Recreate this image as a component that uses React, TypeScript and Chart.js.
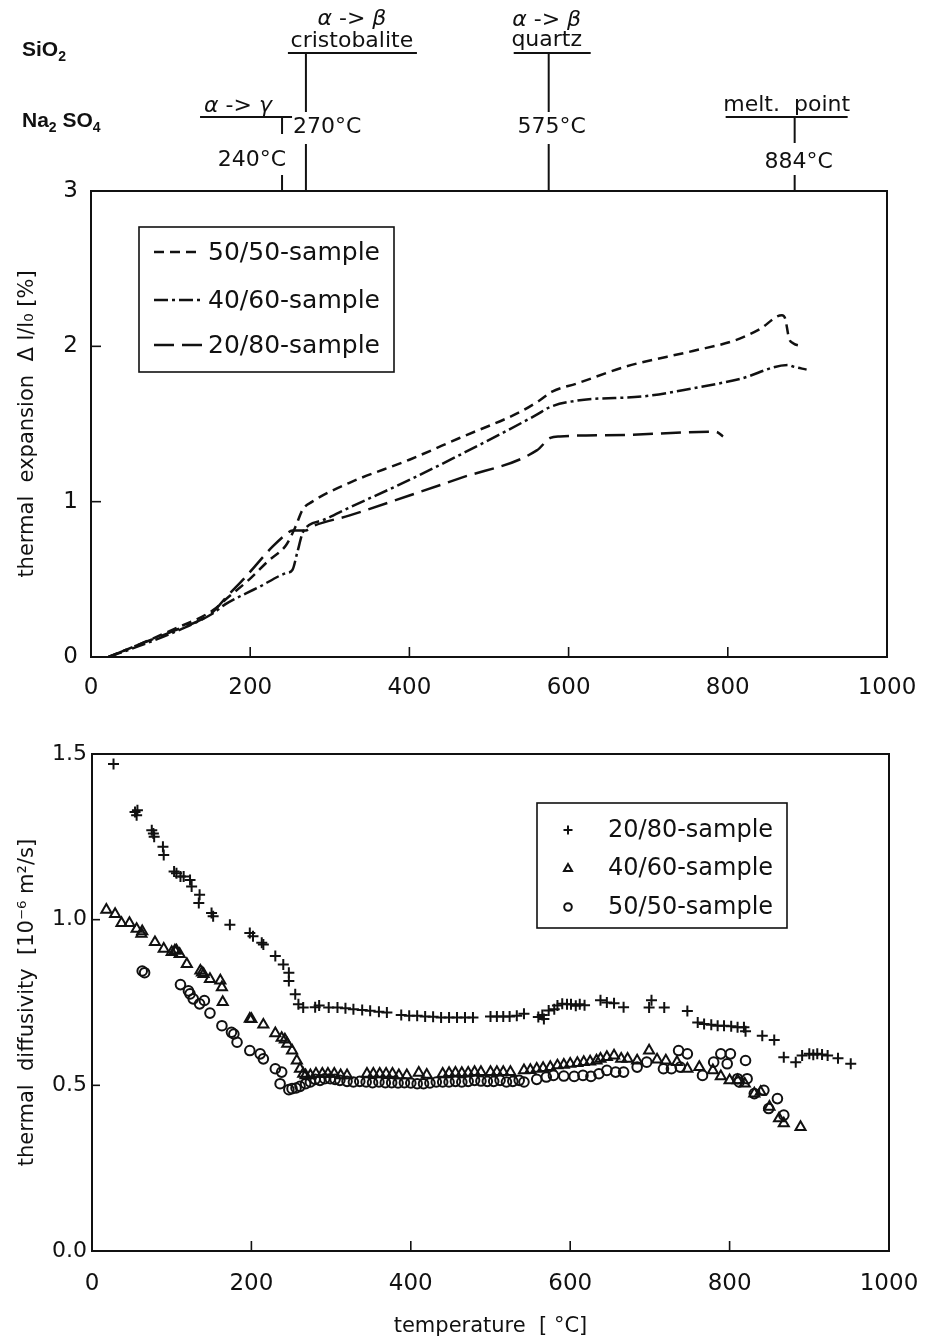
import React, { useEffect, useRef } from "react";
import { Chart, registerables } from "chart.js";
Chart.register(...registerables);

const INK = "#111111";
const FONT = '"DejaVu Sans", sans-serif';
const BOLD = '"Liberation Sans", "DejaVu Sans", sans-serif';

// ---------- Top chart: thermal expansion (temperature °C -> Δl/l0 %) ----------
const exp5050T = [22, 60, 100, 153, 169, 199, 223, 245, 257, 266, 278, 324, 400, 463, 540, 563, 580, 610, 672, 756, 810, 840, 868, 872, 877, 882, 895];
const exp5050V = [0, 0.08, 0.17, 0.30, 0.37, 0.50, 0.62, 0.72, 0.84, 0.95, 1.0, 1.12, 1.27, 1.41, 1.58, 1.65, 1.71, 1.76, 1.87, 1.97, 2.04, 2.11, 2.20, 2.18, 2.05, 2.02, 2.0];
const exp4060T = [22, 60, 100, 153, 169, 211, 245, 253, 259, 266, 274, 291, 324, 400, 463, 560, 577, 610, 698, 756, 815, 876, 882, 899];
const exp4060V = [0, 0.07, 0.15, 0.28, 0.34, 0.45, 0.54, 0.56, 0.67, 0.80, 0.85, 0.88, 0.96, 1.14, 1.30, 1.56, 1.61, 1.65, 1.68, 1.73, 1.79, 1.88, 1.87, 1.85];
const exp2080T = [22, 60, 100, 153, 169, 195, 228, 245, 253, 270, 278, 324, 400, 463, 560, 577, 589, 672, 777, 785, 794];
const exp2080V = [0, 0.08, 0.16, 0.29, 0.38, 0.52, 0.71, 0.79, 0.815, 0.815, 0.84, 0.91, 1.04, 1.15, 1.33, 1.41, 1.42, 1.43, 1.45, 1.45, 1.42];
const expLabels = ["50/50-sample", "40/60-sample", "20/80-sample"];
const expYTicks = [0, 1, 2, 3];
const xTicks = [0, 200, 400, 600, 800, 1000];

// transition annotations
const transTemps = [240, 270, 575, 884];
const transTempLabels = ["240°C", "270°C", "575°C", "884°C"];

// ---------- Bottom chart: thermal diffusivity ----------
const dif2080T = [27, 54, 56, 57, 75, 77, 78, 89, 90, 103, 106, 111, 115, 123, 125, 135, 134, 150, 152, 173, 198, 202, 213, 215, 230, 240, 247, 247, 255, 259, 265, 280, 285, 297, 308, 318, 328, 339, 349, 360, 370, 388, 398, 408, 418, 428, 438, 448, 458, 468, 478, 500, 508, 516, 524, 533, 542, 560, 565, 567, 573, 580, 584, 590, 596, 601, 607, 612, 618, 638, 646, 655, 667, 699, 702, 718, 747, 760, 768, 777, 785, 793, 802, 810, 818, 820, 841, 856, 868, 883, 891, 900, 905, 910, 916, 923, 936, 952];
const dif2080V = [1.47, 1.325, 1.315, 1.33, 1.27, 1.26, 1.25, 1.22, 1.195, 1.145, 1.14, 1.13, 1.13, 1.12, 1.10, 1.075, 1.05, 1.02, 1.01, 0.985, 0.96, 0.95, 0.93, 0.925, 0.89, 0.865, 0.84, 0.815, 0.775, 0.745, 0.735, 0.736, 0.741, 0.735, 0.735, 0.733, 0.73, 0.727, 0.725, 0.722, 0.72, 0.712, 0.71, 0.71, 0.708, 0.707, 0.705, 0.705, 0.705, 0.705, 0.705, 0.708, 0.708, 0.708, 0.708, 0.71, 0.716, 0.706, 0.712, 0.70, 0.726, 0.73, 0.741, 0.746, 0.745, 0.745, 0.74, 0.745, 0.742, 0.757, 0.75, 0.748, 0.736, 0.735, 0.757, 0.735, 0.724, 0.69, 0.685, 0.683, 0.68, 0.68, 0.678, 0.675, 0.675, 0.663, 0.65, 0.637, 0.585, 0.57, 0.59, 0.595, 0.592, 0.595, 0.593, 0.59, 0.582, 0.565];
const dif4060T = [18, 29, 37, 47, 56, 62, 63, 79, 90, 100, 104, 106, 110, 119, 136, 138, 140, 148, 161, 163, 164, 198, 200, 215, 230, 238, 242, 245, 251, 257, 261, 265, 268, 274, 281, 289, 296, 304, 312, 320, 345, 353, 361, 369, 377, 385, 395, 410, 420, 440, 448, 456, 464, 472, 480, 488, 500, 508, 516, 525, 542, 550, 558, 566, 575, 584, 592, 600, 609, 617, 625, 633, 638, 646, 655, 664, 672, 684, 699, 709, 720, 734, 747, 762, 779, 789, 800, 810, 819, 831, 839, 850, 862, 868, 889];
const dif4060V = [1.03, 1.017, 0.99, 0.99, 0.972, 0.957, 0.965, 0.932, 0.912, 0.902, 0.907, 0.907, 0.896, 0.866, 0.846, 0.84, 0.836, 0.821, 0.816, 0.796, 0.751, 0.701, 0.70, 0.683, 0.657, 0.643, 0.638, 0.625, 0.605, 0.575, 0.55, 0.535, 0.53, 0.53, 0.535, 0.535, 0.535, 0.535, 0.53, 0.53, 0.535, 0.535, 0.535, 0.535, 0.535, 0.53, 0.53, 0.538, 0.532, 0.535, 0.537, 0.538, 0.537, 0.538, 0.54, 0.54, 0.54, 0.54, 0.54, 0.54, 0.545, 0.546, 0.55, 0.552, 0.555, 0.56, 0.562, 0.565, 0.567, 0.57, 0.572, 0.575, 0.58, 0.585, 0.59, 0.58, 0.58, 0.575, 0.605, 0.578, 0.575, 0.57, 0.55, 0.555, 0.545, 0.527, 0.515, 0.515, 0.505, 0.475, 0.48, 0.435, 0.40, 0.385, 0.374];
const dif5050T = [63, 66, 111, 121, 123, 127, 135, 141, 148, 163, 175, 178, 182, 198, 211, 215, 230, 236, 238, 247, 251, 256, 261, 268, 274, 280, 286, 292, 299, 305, 311, 320, 328, 336, 344, 352, 360, 368, 376, 384, 392, 400, 408, 416, 424, 432, 440, 448, 456, 464, 472, 480, 488, 496, 504, 512, 520, 528, 536, 542, 558, 570, 579, 592, 605, 616, 626, 636, 646, 657, 667, 684, 696, 717, 727, 736, 738, 747, 766, 780, 789, 797, 801, 810, 812, 820, 822, 831, 843, 849, 860, 868];
const dif5050V = [0.845, 0.84, 0.804, 0.785, 0.776, 0.761, 0.746, 0.756, 0.718, 0.68, 0.66, 0.655, 0.63, 0.605, 0.595, 0.58, 0.55, 0.505, 0.54, 0.487, 0.49, 0.492, 0.497, 0.505, 0.51, 0.518, 0.515, 0.52, 0.52, 0.518, 0.515, 0.512, 0.51, 0.512, 0.51, 0.508, 0.51, 0.508, 0.508, 0.507, 0.508, 0.507, 0.505, 0.505, 0.507, 0.51, 0.51, 0.51, 0.512, 0.51, 0.512, 0.515, 0.513, 0.512, 0.512, 0.515, 0.51, 0.512, 0.515, 0.51, 0.518, 0.525, 0.53, 0.528, 0.527, 0.53, 0.527, 0.535, 0.545, 0.54, 0.54, 0.555, 0.57, 0.55, 0.55, 0.605, 0.555, 0.595, 0.53, 0.57, 0.595, 0.565, 0.595, 0.52, 0.51, 0.575, 0.52, 0.475, 0.485, 0.43, 0.46, 0.41];
const difLabels = ["20/80-sample", "40/60-sample", "50/50-sample"];
const difYTicks = [0, 0.5, 1.0, 1.5];

const zip = (xs: number[], ys: number[]) => xs.map((x, i) => ({ x, y: ys[i] }));

function drawSegs(ctx: CanvasRenderingContext2D, segs: [string, string, number?][], x: number, y: number, align: string) {
  let total = 0;
  for (const s of segs) { ctx.font = s[1]; total += ctx.measureText(s[0]).width; }
  let cx = align === "center" ? x - total / 2 : align === "right" ? x - total : x;
  ctx.textAlign = "left";
  ctx.textBaseline = "alphabetic";
  for (const s of segs) {
    ctx.font = s[1];
    ctx.fillText(s[0], cx, y + (s[2] || 0));
    cx += ctx.measureText(s[0]).width;
  }
}

const framePlugin = {
  id: "frame",
  afterDraw(chart: any, _args: any, opts: any) {
    const { ctx, chartArea: a } = chart;
    const xs = chart.scales.x, ys = chart.scales.y;
    ctx.save();
    ctx.strokeStyle = INK;
    ctx.lineWidth = 2;
    ctx.strokeRect(a.left, a.top, a.right - a.left, a.bottom - a.top);
    ctx.lineWidth = 1.6;
    for (const t of xs.ticks) {
      const px = xs.getPixelForValue(t.value);
      if (px <= a.left + 1 || px >= a.right - 1) continue;
      ctx.beginPath(); ctx.moveTo(px, a.bottom); ctx.lineTo(px, a.bottom - opts.xLen); ctx.stroke();
    }
    for (const t of ys.ticks) {
      const py = ys.getPixelForValue(t.value);
      if (py <= a.top + 1 || py >= a.bottom - 1) continue;
      ctx.beginPath(); ctx.moveTo(a.left, py); ctx.lineTo(a.left + opts.yLen, py); ctx.stroke();
    }
    ctx.restore();
  },
};

const topAnnoPlugin = {
  id: "topAnno",
  afterDraw(chart: any) {
    const ctx: CanvasRenderingContext2D = chart.ctx;
    const xs = chart.scales.x;
    const top = chart.chartArea.top;
    ctx.save();
    ctx.strokeStyle = INK;
    ctx.fillStyle = INK;
    ctx.lineWidth = 2;
    const line = (x1: number, y1: number, x2: number, y2: number) => {
      ctx.beginPath(); ctx.moveTo(x1, y1); ctx.lineTo(x2, y2); ctx.stroke();
    };
    const reg = `22px ${FONT}`;
    const ital = `italic 22px ${FONT}`;
    const b = `bold 21px ${BOLD}`;
    const bs = `bold 14px ${BOLD}`;
    drawSegs(ctx, [["SiO", b], ["2", bs, 5]], 22, 56, "left");
    drawSegs(ctx, [["Na", b], ["2", bs, 5], [" SO", b], ["4", bs, 5]], 22, 127, "left");

    // 240 °C  alpha -> gamma (Na2SO4)
    let x = xs.getPixelForValue(transTemps[0]);
    line(x - 82, 117, x + 10, 117);
    line(x, 117, x, 134);
    line(x, 175, x, top);
    drawSegs(ctx, [["α", ital], [" -> ", reg], ["γ", ital]], x - 44, 112, "center");
    drawSegs(ctx, [[transTempLabels[0], reg]], x - 30, 166, "center");

    // 270 °C  cristobalite
    x = xs.getPixelForValue(transTemps[1]);
    line(x - 18, 53, x + 111, 53);
    line(x, 53, x, 112);
    line(x, 144, x, top);
    drawSegs(ctx, [["α", ital], [" -> ", reg], ["β", ital]], x + 46, 25, "center");
    drawSegs(ctx, [["cristobalite", reg]], x + 46, 47, "center");
    drawSegs(ctx, [[transTempLabels[1], reg]], x - 13, 133, "left");

    // 575 °C quartz
    x = xs.getPixelForValue(transTemps[2]);
    line(x - 35, 53, x + 42, 53);
    line(x, 53, x, 112);
    line(x, 144, x, top);
    drawSegs(ctx, [["α", ital], [" -> ", reg], ["β", ital]], x - 2, 26, "center");
    drawSegs(ctx, [["quartz", reg]], x - 2, 46, "center");
    drawSegs(ctx, [[transTempLabels[2], reg]], x + 3, 133, "center");

    // 884 °C melting point
    x = xs.getPixelForValue(transTemps[3]);
    line(x - 69, 117, x + 53, 117);
    line(x, 117, x, 143);
    line(x, 175, x, top);
    drawSegs(ctx, [["melt.  point", reg]], x - 8, 111, "center");
    drawSegs(ctx, [[transTempLabels[3], reg]], x + 4, 168, "center");

    // legend
    ctx.lineWidth = 1.6;
    ctx.strokeRect(139, 227, 255, 145);
    const rows = [252, 300, 345];
    chart.data.datasets.forEach((ds: any, i: number) => {
      const y = rows[i];
      ctx.save();
      ctx.lineWidth = 2.5;
      ctx.setLineDash(ds.borderDash || []);
      line(154, y, 202, y);
      ctx.restore();
      ctx.font = `25px ${FONT}`;
      ctx.textAlign = "left";
      ctx.textBaseline = "middle";
      ctx.fillText(ds.label, 208, y + 1);
    });
    ctx.restore();
  },
};

const bottomLegendPlugin = {
  id: "botLegend",
  afterDraw(chart: any) {
    const ctx: CanvasRenderingContext2D = chart.ctx;
    ctx.save();
    ctx.strokeStyle = INK;
    ctx.fillStyle = INK;
    ctx.lineWidth = 1.6;
    ctx.strokeRect(537, 103, 250, 125);
    const rows = [130, 168, 207];
    const mx = 568;
    chart.data.datasets.forEach((ds: any, i: number) => {
      const y = rows[i];
      ctx.lineWidth = 2;
      ctx.beginPath();
      if (ds.pointStyle === "cross") {
        ctx.moveTo(mx - 4.5, y); ctx.lineTo(mx + 4.5, y);
        ctx.moveTo(mx, y - 4.5); ctx.lineTo(mx, y + 4.5);
      } else if (ds.pointStyle === "triangle") {
        ctx.moveTo(mx, y - 4); ctx.lineTo(mx + 4, y + 3); ctx.lineTo(mx - 4, y + 3); ctx.closePath();
      } else {
        ctx.arc(mx, y, 3.8, 0, Math.PI * 2);
      }
      ctx.stroke();
      ctx.font = `24px ${FONT}`;
      ctx.textAlign = "left";
      ctx.textBaseline = "middle";
      ctx.fillText(ds.label, 608, y + 1);
    });
    ctx.restore();
  },
};

const fmtX = (v: any) => String(Math.round(Number(v)));

function TopChart() {
  const ref = useRef<HTMLCanvasElement>(null);
  useEffect(() => {
    const lineDs = (label: string, xs: number[], ys: number[], dash: number[]) => ({
      label,
      data: zip(xs, ys),
      borderColor: INK,
      borderWidth: 2.5,
      borderDash: dash,
      pointRadius: 0,
      fill: false,
      cubicInterpolationMode: "monotone" as const,
    });
    const chart = new Chart(ref.current!, {
      type: "line",
      data: {
        datasets: [
          lineDs(expLabels[0], exp5050T, exp5050V, [10, 6]),
          lineDs(expLabels[1], exp4060T, exp4060V, [14, 4, 3, 4]),
          lineDs(expLabels[2], exp2080T, exp2080V, [20, 8]),
        ],
      },
      options: {
        animation: false,
        responsive: false,
        layout: { padding: { left: 0, right: 38, top: 191, bottom: 0 } },
        plugins: {
          legend: { display: false },
          tooltip: { enabled: false },
          frame: { xLen: 10, yLen: 10 },
        } as any,
        scales: {
          x: {
            type: "linear",
            min: 0,
            max: 1000,
            afterBuildTicks: (s: any) => { s.ticks = xTicks.map((v) => ({ value: v })); },
            afterFit: (s: any) => { s.height = 43; s.paddingLeft = 0; s.paddingRight = 0; },
            grid: { display: false, drawTicks: false },
            border: { display: false },
            ticks: { color: INK, font: { family: FONT, size: 23 }, padding: 17, callback: fmtX },
          },
          y: {
            type: "linear",
            min: 0,
            max: 3,
            afterBuildTicks: (s: any) => { s.ticks = expYTicks.map((v) => ({ value: v })); },
            afterFit: (s: any) => { s.width = 91; s.paddingTop = 0; s.paddingBottom = 0; },
            grid: { display: false, drawTicks: false },
            border: { display: false },
            ticks: { color: INK, font: { family: FONT, size: 23 }, padding: 13 },
            title: {
              display: true,
              text: "thermal  expansion  Δ l/l₀ [%]",
              color: INK,
              font: { family: FONT, size: 21 },
              padding: { top: 15, bottom: 0 },
            },
          },
        },
      },
      plugins: [framePlugin, topAnnoPlugin],
    });
    return () => chart.destroy();
  }, []);
  return <canvas ref={ref} width={925} height={700} style={{ display: "block" }} />;
}

function BottomChart() {
  const ref = useRef<HTMLCanvasElement>(null);
  useEffect(() => {
    const ptDs = (label: string, xs: number[], ys: number[], style: string, r: number) => ({
      label,
      data: zip(xs, ys),
      pointStyle: style,
      pointRadius: r,
      borderColor: INK,
      backgroundColor: "rgba(0,0,0,0)",
      borderWidth: 2,
      showLine: false,
    });
    const chart = new Chart(ref.current!, {
      type: "scatter",
      data: {
        datasets: [
          ptDs(difLabels[0], dif2080T, dif2080V, "cross", 5.5),
          ptDs(difLabels[1], dif4060T, dif4060V, "triangle", 5.8),
          ptDs(difLabels[2], dif5050T, dif5050V, "circle", 4.8),
        ] as any,
      },
      options: {
        animation: false,
        responsive: false,
        layout: { padding: { left: 0, right: 36, top: 54, bottom: 0 } },
        plugins: {
          legend: { display: false },
          tooltip: { enabled: false },
          frame: { xLen: 10, yLen: 8 },
        } as any,
        scales: {
          x: {
            type: "linear",
            min: 0,
            max: 1000,
            afterBuildTicks: (s: any) => { s.ticks = xTicks.map((v) => ({ value: v })); },
            afterFit: (s: any) => { s.height = 88; s.paddingLeft = 0; s.paddingRight = 0; },
            grid: { display: false, drawTicks: false },
            border: { display: false },
            ticks: { color: INK, font: { family: FONT, size: 23 }, padding: 19, callback: fmtX },
            title: {
              display: true,
              text: "temperature  [ °C]",
              color: INK,
              font: { family: FONT, size: 21 },
              padding: { top: 0, bottom: 0 },
            },
          },
          y: {
            type: "linear",
            min: 0,
            max: 1.5,
            afterBuildTicks: (s: any) => { s.ticks = difYTicks.map((v) => ({ value: v })); },
            afterFit: (s: any) => { s.width = 92; s.paddingTop = 0; s.paddingBottom = 0; },
            grid: { display: false, drawTicks: false },
            border: { display: false },
            ticks: {
              color: INK,
              font: { family: FONT, size: 22 },
              padding: 5,
              callback: (v: any) => Number(v).toFixed(1),
            },
            title: {
              display: true,
              text: "thermal  diffusivity  [10⁻⁶ m²/s]",
              color: INK,
              font: { family: FONT, size: 21 },
              padding: { top: 15, bottom: 0 },
            },
          },
        },
      },
      plugins: [framePlugin, bottomLegendPlugin],
    });
    return () => chart.destroy();
  }, []);
  return <canvas ref={ref} width={925} height={639} style={{ display: "block" }} />;
}

export default function App() {
  return (
    <div style={{ position: "absolute", left: 0, top: 0, width: 925, height: 1339, background: "#ffffff" }}>
      <div style={{ position: "absolute", left: 0, top: 0, width: 925, height: 700 }}>
        <TopChart />
      </div>
      <div style={{ position: "absolute", left: 0, top: 700, width: 925, height: 639 }}>
        <BottomChart />
      </div>
    </div>
  );
}
